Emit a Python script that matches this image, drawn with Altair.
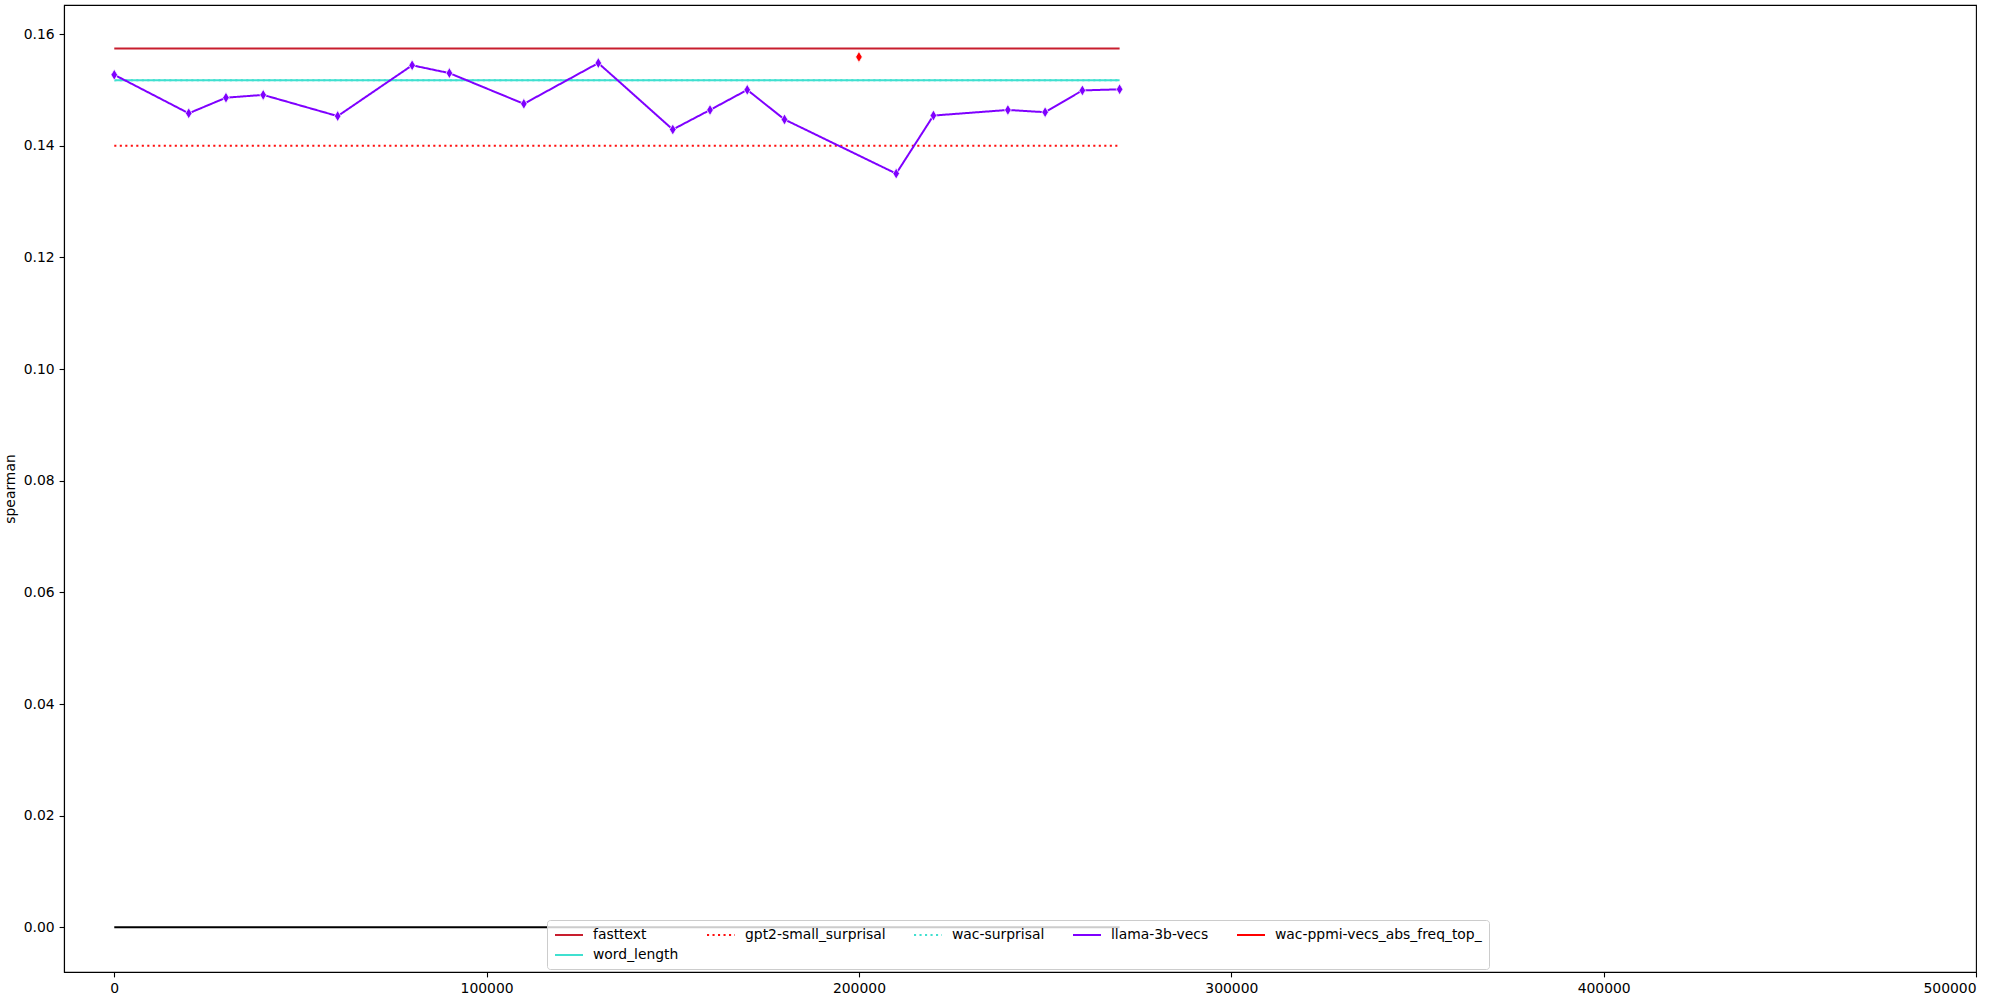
import altair as alt
import pandas as pd

# ---- data ----
llama_x = [0, 20000, 30000, 40000, 60000, 80000, 90000, 110000, 130000, 150000,
           160000, 170000, 180000, 210000, 220000, 240000, 250000, 260000, 270000]
llama_y = [0.1527, 0.1458, 0.1486, 0.1491, 0.1453, 0.1544, 0.1530, 0.1475, 0.1548, 0.1429,
           0.1464, 0.1500, 0.1447, 0.1350, 0.1454, 0.1464, 0.1460, 0.1499, 0.1501]

baseline_names = ["wac-surprisal", "gpt2-small_surprisal", "word_length", "fasttext"]
baseline_values = [0.1517, 0.1400, 0.1517, 0.1574]
baseline_span = [0, 270000]

ppmi_x = [200000]
ppmi_y = [0.1559]

zero_span = [0, 270000]
zero_value = [0.0]

# legend order (row-major, 5 columns)
series_order = ["fasttext", "gpt2-small_surprisal", "wac-surprisal", "llama-3b-vecs",
                "wac-ppmi-vecs_abs_freq_top_", "word_length"]
series_colors = ["#c81e2e", "#ff1010", "#40e0d0", "#7f00ff", "#ff0000", "#40e0d0"]
series_dash = [[1, 0], [2.1, 3.4], [2.1, 3.4], [1, 0], [1, 0], [1, 0]]

x_ticks = [0, 100000, 200000, 300000, 400000, 500000]
y_ticks = [0.0, 0.02, 0.04, 0.06, 0.08, 0.10, 0.12, 0.14, 0.16]

# ---- tables ----
base_rows = []
for n, v in zip(baseline_names, baseline_values):
    for xv in baseline_span:
        base_rows.append({"x": xv, "y": v, "series": n})
base_df = pd.DataFrame(base_rows)
llama_df = pd.DataFrame({"x": llama_x, "y": llama_y, "series": "llama-3b-vecs"})
ppmi_df = pd.DataFrame({"x": ppmi_x, "y": ppmi_y, "series": "wac-ppmi-vecs_abs_freq_top_"})
zero_df = pd.DataFrame({"x": [zero_span[0]], "x2": [zero_span[1]], "y": zero_value})

FONT = "DejaVu Sans"
FS = 13.9

xscale = alt.Scale(domain=[-13500, 500000], nice=False, zero=False)
yscale = alt.Scale(domain=[-0.0080, 0.1652], nice=False, zero=False)

xenc = alt.X("x:Q", scale=xscale, title=None,
             axis=alt.Axis(values=x_ticks, format="d", grid=False))
yenc = alt.Y("y:Q", scale=yscale, title="spearman",
             axis=alt.Axis(values=y_ticks, format=".2f", grid=False))

leg = alt.Legend(orient="none", legendX=483, legendY=915, columns=5, direction="horizontal")
color = alt.Color("series:N",
                  scale=alt.Scale(domain=series_order, range=series_colors),
                  sort=series_order, title=None, legend=leg)
dash = alt.StrokeDash("series:N",
                      scale=alt.Scale(domain=series_order, range=series_dash),
                      sort=series_order, title=None, legend=leg)

zero_layer = alt.Chart(zero_df).mark_rule(color="black", strokeWidth=2).encode(
    x=xenc, x2="x2:Q", y=yenc)

base_layer = alt.Chart(base_df).mark_line(strokeWidth=2).encode(
    x=xenc, y=yenc, color=color, strokeDash=dash, detail="series:N")

llama_line = alt.Chart(llama_df).mark_line(strokeWidth=2).encode(
    x=xenc, y=yenc, color=color, strokeDash=dash)

points_df = pd.concat([llama_df, ppmi_df], ignore_index=True)
points = alt.Chart(points_df).mark_point(
    shape="M0,-1L0.6,0L0,1L-0.6,0Z", size=121, filled=True, opacity=1,
    stroke="white", strokeWidth=0.75).encode(
    x=xenc, y=yenc,
    fill=alt.Fill("series:N", scale=alt.Scale(domain=series_order, range=series_colors),
                  legend=None))

chart = alt.layer(zero_layer, base_layer, llama_line, points).resolve_scale(
    fill="independent"
).properties(
    width=1912, height=967,
    autosize=alt.AutoSizeParams(type="none"),
    padding={"left": 64, "top": 5, "right": 24, "bottom": 28},
    background="white",
).configure_view(
    stroke="black", strokeWidth=1.1
).configure_axis(
    labelFont=FONT, labelFontSize=FS, labelColor="black",
    titleFont=FONT, titleFontSize=FS, titleColor="black", titleFontWeight="normal",
    domainColor="black", domainWidth=1.1, tickColor="black", tickWidth=1.1,
    tickSize=4.9, labelPadding=4.9, titlePadding=6,
).configure_legend(
    labelFont=FONT, labelFontSize=FS, labelColor="black",
    symbolType="M-2,0L2,0", symbolSize=196, symbolStrokeWidth=2,
    symbolOffset=7, labelOffset=16,
    columnPadding=24, rowPadding=5, padding=7,
    fillColor="rgba(255,255,255,0.8)", strokeColor="#cccccc", cornerRadius=3,
    labelLimit=400,
)

chart.save("out.html", embed_options={"renderer": "svg", "actions": False})
